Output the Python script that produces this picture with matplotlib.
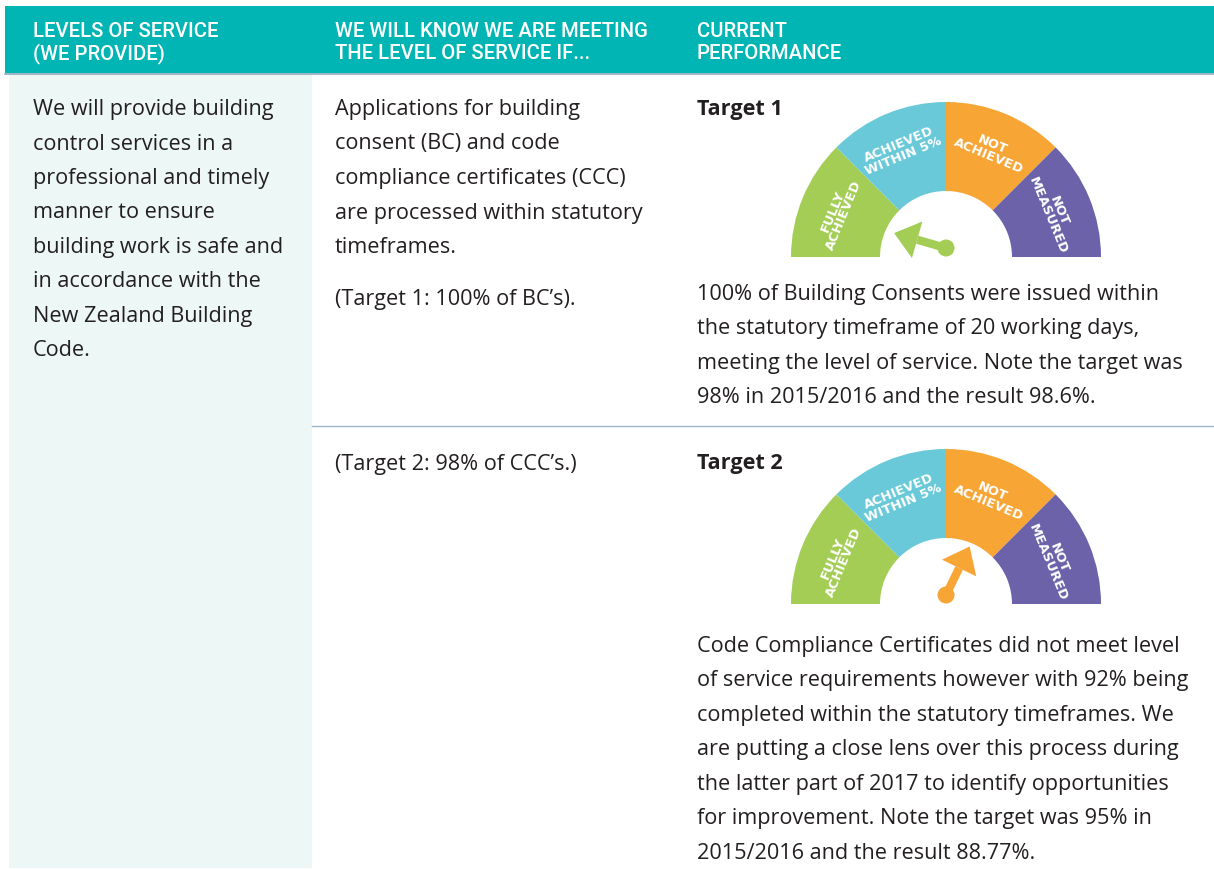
import numpy as np
import matplotlib.pyplot as plt
from matplotlib.patches import Wedge, Rectangle, Circle, Polygon

# 表头
headers = ["LEVELS OF SERVICE\n(WE PROVIDE)",
           "WE WILL KNOW WE ARE MEETING\nTHE LEVEL OF SERVICE IF...",
           "CURRENT\nPERFORMANCE"]

# 正文
service_lines = ["We will provide building", "control services in a",
                 "professional and timely", "manner to ensure",
                 "building work is safe and", "in accordance with the",
                 "New Zealand Building", "Code."]
measure_lines = ["Applications for building", "consent (BC) and code",
                 "compliance certificates (CCC)", "are processed within statutory",
                 "timeframes."]
target_notes = ["(Target 1: 100% of BC\u2019s).", "(Target 2: 98% of CCC\u2019s.)"]
target_titles = ["Target 1", "Target 2"]
result_lines = [
    ["100% of Building Consents were issued within",
     "the statutory timeframe of 20 working days,",
     "meeting the level of service. Note the target was",
     "98% in 2015/2016 and the result 98.6%."],
    ["Code Compliance Certificates did not meet level",
     "of service requirements however with 92% being",
     "completed within the statutory timeframes. We",
     "are putting a close lens over this process during",
     "the latter part of 2017 to identify opportunities",
     "for improvement. Note the target was 95% in",
     "2015/2016 and the result 88.77%."],
]

# 仪表盘
gauge_labels = ["FULLY\nACHIEVED", "ACHIEVED\nWITHIN 5%", "NOT\nACHIEVED", "NOT\nMEASURED"]
gauge_colors = ["#a3cd55", "#69c9d9", "#f7a535", "#6b62aa"]
needle_angles = [164, 64]   # 指针方向（度，0 = 右，180 = 左）
needle_colors = ["#a3cd55", "#f7a535"]

TEAL = "#00b5b3"
TEXT = "#231f20"
BODY_FONT = ["Open Sans", "DejaVu Sans"]
BODY_SIZE = 15.6
LINE = 34.5


def draw_lines(ax, x, y0, lines, **kw):
    for i, s in enumerate(lines):
        ax.text(x, y0 + i * LINE, s, va="baseline", ha="left", color=TEXT,
                fontsize=BODY_SIZE, family=BODY_FONT, **kw)


def draw_gauge(ax, cx, cy, angle, ncolor):
    r_out, r_in = 155, 66
    for k, (lab, col) in enumerate(zip(gauge_labels, gauge_colors)):
        a0 = 180 - 45 * (k + 1)
        a1 = 180 - 45 * k
        # y 轴反向，所以角度取负
        ax.add_patch(Wedge((cx, cy), r_out, -a1, -a0, width=r_out - r_in,
                           facecolor=col, edgecolor="none"))
        mid = np.deg2rad((a0 + a1) / 2)
        rr = (r_out + r_in) / 2 + 6
        ax.text(cx + rr * np.cos(mid), cy - rr * np.sin(mid), lab,
                rotation=np.rad2deg(mid) - 90, rotation_mode="anchor",
                ha="center", va="center", color="white", fontsize=9.4,
                fontweight="bold", family=["DejaVu Sans"], linespacing=0.9)
    # 指针
    t = np.deg2rad(angle)
    ux, uy = np.cos(t), -np.sin(t)
    px, py = -uy, ux
    bx, by = cx, cy - 9
    ax.add_patch(Circle((bx, by), 8.5, facecolor=ncolor, edgecolor="none"))
    shaft = 30
    ax.plot([bx, bx + ux * shaft], [by, by + uy * shaft], color=ncolor, lw=6,
            solid_capstyle="butt")
    base = np.array([bx + ux * shaft, by + uy * shaft])
    tip = base + np.array([ux, uy]) * 24
    w = 19
    ax.add_patch(Polygon([tip, base + np.array([px, py]) * w, base - np.array([px, py]) * w],
                         closed=True, facecolor=ncolor, edgecolor="none"))


def main():
    fig = plt.figure(figsize=(12.14, 8.70), dpi=100)
    ax = fig.add_axes([0, 0, 1, 1])
    ax.set_xlim(0, 1214)
    ax.set_ylim(870, 0)
    ax.axis("off")

    # 背景块
    ax.add_patch(Rectangle((5, 7), 1209, 67, facecolor=TEAL, edgecolor="none"))
    ax.plot([5, 1214], [74.5, 74.5], color="#8fa9bb", lw=1.2)
    ax.add_patch(Rectangle((9, 75), 303, 794, facecolor="#edf7f5", edgecolor="none"))
    ax.plot([312, 1214], [427, 427], color="#9ab5c9", lw=1.0)

    for x, h in zip([33, 335, 697], headers):
        for j, s in enumerate(h.split("\n")):
            ax.text(x, 37 + j * 22, s, va="baseline", ha="left", color="white",
                    fontsize=14.6, family=["Roboto", "DejaVu Sans"], fontweight="medium")

    draw_lines(ax, 33, 115, service_lines)
    draw_lines(ax, 335, 115, measure_lines)
    draw_lines(ax, 335, 305, [target_notes[0]])
    draw_lines(ax, 335, 470, [target_notes[1]])

    ax.text(697, 115, target_titles[0], va="baseline", color=TEXT, fontsize=BODY_SIZE,
            fontweight="bold", family=BODY_FONT)
    ax.text(697, 469, target_titles[1], va="baseline", color=TEXT, fontsize=BODY_SIZE,
            fontweight="bold", family=BODY_FONT)
    draw_lines(ax, 697, 300, result_lines[0])
    draw_lines(ax, 697, 652, result_lines[1])

    draw_gauge(ax, 946, 258, needle_angles[0], needle_colors[0])
    draw_gauge(ax, 946, 605, needle_angles[1], needle_colors[1])

    fig.savefig("out.png", dpi=100)


if __name__ == "__main__":
    main()
